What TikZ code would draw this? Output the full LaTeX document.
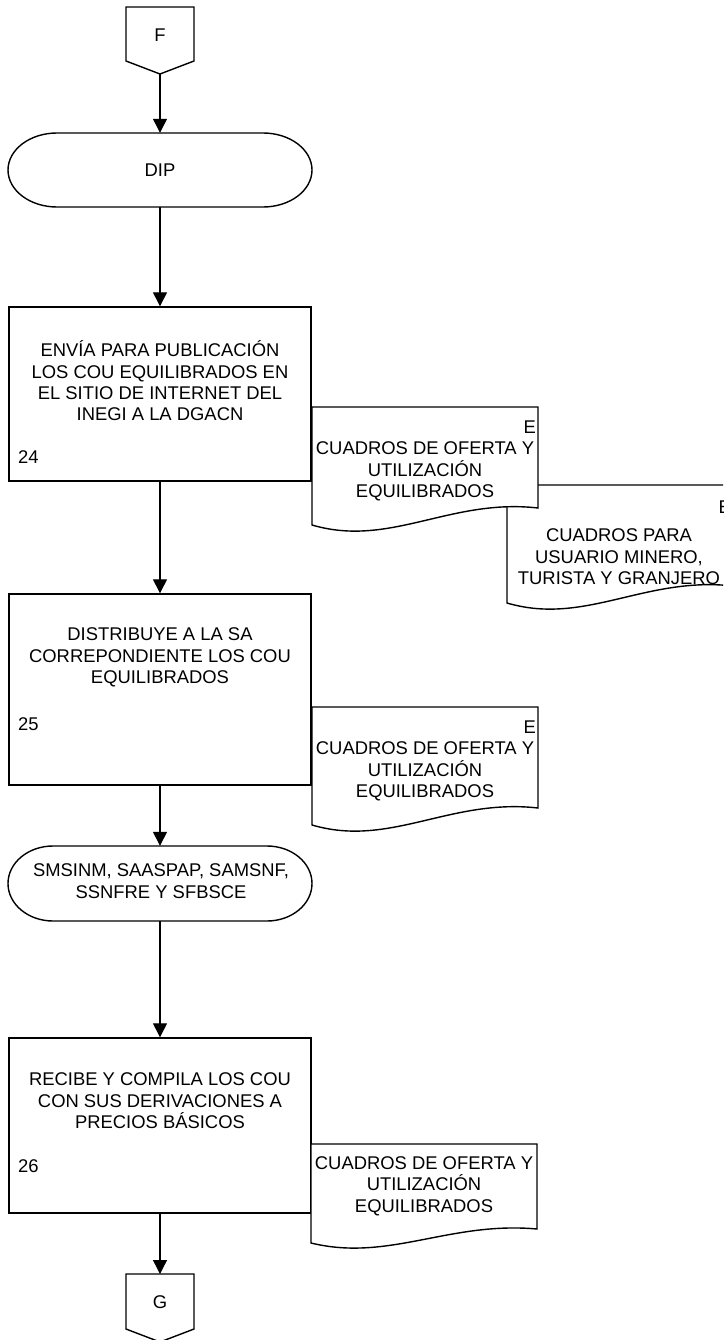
\documentclass[tikz,border=0pt]{standalone}
\usepackage{fontspec}
\setmainfont{Liberation Sans}
\usetikzlibrary{arrows.meta}
\begin{document}
\begin{tikzpicture}[x=1pt,y=-1pt,line join=miter,
  shp/.style={draw=black,line width=1.4pt,fill=white},
  arr/.style={draw=black,line width=1.3pt,-{Triangle[width=14pt,length=14pt]}},
  txt/.style={font=\fontsize{18.4}{21.4}\selectfont,align=center,inner sep=0pt},
  boxnode/.style={shp,minimum width=302pt,inner sep=0pt},
  termnode/.style={txt,minimum width=304pt}]
\useasboundingbox (0,0) rectangle (723,1340);
\fill[white] (0,0) rectangle (723,1340);
\clip (0,0) rectangle (723,1340);

% F connector
\draw[shp] (126,7) -- (194,7) -- (194,61) -- (160,74) -- (126,61) -- cycle;
\node[txt] (F) at (160,35) {F};
\coordinate (Ftip) at (160,74);

% DIP terminator
\draw[shp] (57,133) -- (263,133) .. controls (290.1,133) and (312,149.6) .. (312,170)
  .. controls (312,190.4) and (290.1,207) .. (263,207) -- (57,207)
  .. controls (29.9,207) and (8,190.4) .. (8,170) .. controls (8,149.6) and (29.9,133) .. (57,133) -- cycle;
\node[termnode,minimum height=74pt] (dip) at (160,170) {DIP};

% Box 24
\node[boxnode,minimum height=174pt] (b24) at (160,394) {};
\node[txt] (t24) at (160,381) {ENVÍA PARA PUBLICACIÓN\\LOS COU EQUILIBRADOS EN\\EL SITIO DE INTERNET DEL\\INEGI A LA DGACN};
\node[txt,anchor=west] (n24) at (18,457) {24};

% Box 25
\node[boxnode,minimum height=191pt] (b25) at (160,689.5) {};
\node[txt] (t25) at (160,657.5) {DISTRIBUYE A LA SA\\CORREPONDIENTE LOS COU\\EQUILIBRADOS};
\node[txt,anchor=west] (n25) at (18,724) {25};

% SMSINM terminator
\draw[shp] (53,846) -- (267,846) .. controls (291.9,846) and (312,862.8) .. (312,883.5)
  .. controls (312,904.2) and (291.9,921) .. (267,921) -- (53,921)
  .. controls (28.1,921) and (8,904.2) .. (8,883.5) .. controls (8,862.8) and (28.1,846) .. (53,846) -- cycle;
\node[termnode,minimum height=75pt] (sms) at (160,883.5) {};
\node[txt] (smstxt) at (161,881) {SMSINM, SAASPAP, SAMSNF,\\SSNFRE Y SFBSCE};

% Box 26
\node[boxnode,minimum height=175pt] (b26) at (160,1125.5) {};
\node[txt] (t26) at (160,1101) {RECIBE Y COMPILA LOS COU\\CON SUS DERIVACIONES A\\PRECIOS BÁSICOS};
\node[txt,anchor=west] (n26) at (18,1166) {26};

% G connector
\draw[shp] (126,1274) -- (194,1274) -- (194,1329) -- (160,1342) -- (126,1329) -- cycle;
\node[txt] (G) at (160,1302) {G};
\coordinate (Gtop) at (160,1274);

% Documents (doc2 under doc1)
\draw[shp] (507,485) -- (733,485) -- (733,586) .. controls (645,576) and (585,626) .. (507,603) -- cycle;
\node[txt] (d2) at (619,557) {CUADROS PARA\\USUARIO MINERO,\\TURISTA Y GRANJERO};
\node[txt,anchor=east] (d2e) at (731,507) {E};

\draw[shp] (312,407) -- (538,407) -- (538,508) .. controls (450,498) and (390,548) .. (312,525) -- cycle;
\node[txt] (d1) at (425,471.5) {CUADROS DE OFERTA Y\\UTILIZACIÓN\\EQUILIBRADOS};
\node[txt,anchor=east] (d1e) at (536,427) {E};

\draw[shp] (312,707) -- (538,707) -- (538,808) .. controls (450,798) and (390,848) .. (312,825) -- cycle;
\node[txt] (d3) at (425,771.5) {CUADROS DE OFERTA Y\\UTILIZACIÓN\\EQUILIBRADOS};
\node[txt,anchor=east] (d3e) at (536,727) {E};

\draw[shp] (311,1144) -- (537,1144) -- (537,1229) .. controls (449,1221) and (389,1262) .. (311,1243) -- cycle;
\node[txt] (d4) at (424,1186) {CUADROS DE OFERTA Y\\UTILIZACIÓN\\EQUILIBRADOS};

% Connectors
\draw[arr] (Ftip) -- (dip.north);
\draw[arr] (dip.south) -- (b24.north);
\draw[arr] (b24.south) -- (b25.north);
\draw[arr] (b25.south) -- (sms.north);
\draw[arr] (sms.south) -- (b26.north);
\draw[arr] (b26.south) -- (Gtop);
\end{tikzpicture}
\end{document}
